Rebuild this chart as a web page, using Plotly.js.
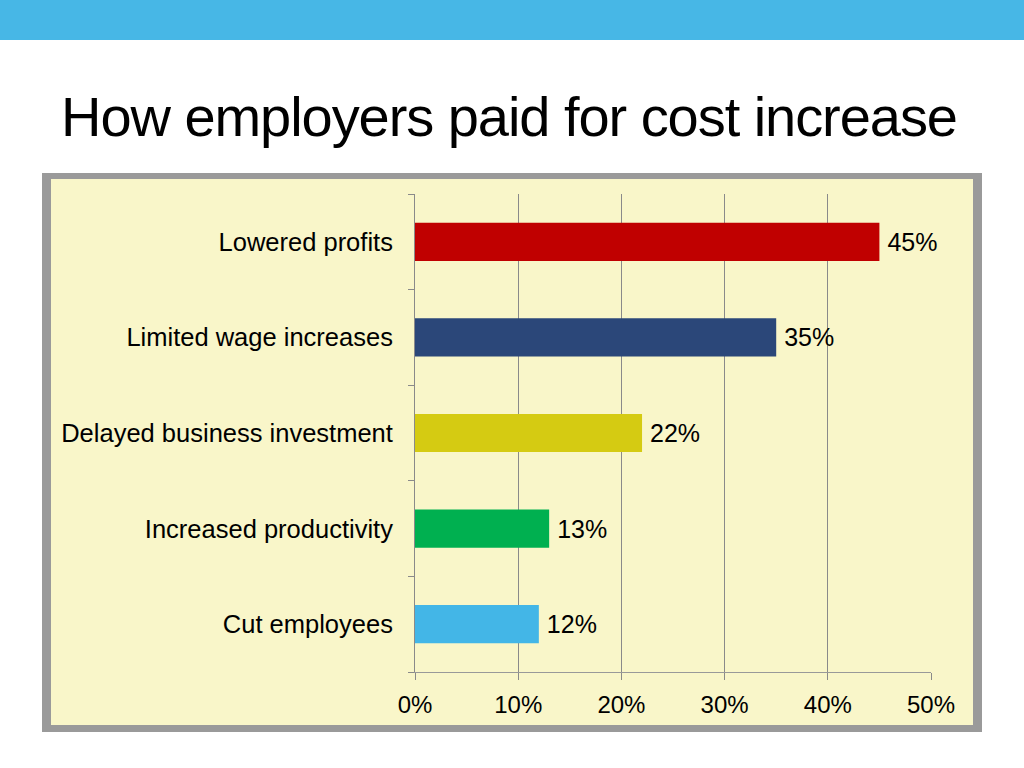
<!DOCTYPE html>
<html><head><meta charset="utf-8">
<script src="https://cdn.plot.ly/plotly-3.0.1.min.js"></script>
<style>html,body{margin:0;padding:0;background:#fff}#chart{width:1024px;height:768px}
.gtitle{letter-spacing:-1.05px}</style>
</head><body><div id="chart"></div>
<script>
var categories = ["Lowered profits","Limited wage increases","Delayed business investment","Increased productivity","Cut employees"];
var values = [45, 35, 22, 13, 12];
var barColors = ["#C00000","#2B4779","#D5CB12","#00B050","#43B6E7"];
var tickVals = [0,10,20,30,40,50];
var tickText = ["0%","10%","20%","30%","40%","50%"];
var titleText = "How employers paid for cost increase";

var font = "Liberation Sans, Arial, sans-serif";
var trace = {
  type: "bar", orientation: "h",
  y: categories.slice().reverse(),
  x: values.slice().reverse(),
  marker: {color: barColors.slice().reverse()},
  width: 0.4,
  text: values.slice().reverse().map(function(v){return "\u2009" + v + "%";}),
  textposition: "outside", constraintext: "none", cliponaxis: false,
  textfont: {family: font, size: 25, color: "#000"},
  hoverinfo: "none"
};
var layout = {
  width: 1024, height: 768,
  margin: {l: 415, r: 93, t: 194, b: 96},
  paper_bgcolor: "rgba(0,0,0,0)", plot_bgcolor: "rgba(0,0,0,0)",
  showlegend: false,
  font: {family: font, color: "#000"},
  title: {text: titleText, font: {family: font, size: 56, color: "#000"},
    xref: "container", yref: "container", x: 61/1024, xanchor: "left", y: 1-116/768, yanchor: "middle"},
  xaxis: {range: [0, 50], tickvals: tickVals, ticktext: tickText, showgrid: true, gridcolor: "#8a8a8a", gridwidth: 1,
    zeroline: false, showline: true, linecolor: "#999", ticks: "outside", ticklen: 7, tickcolor: "#8a8a8a",
    tickfont: {family: font, size: 24, color: "#000"}, ticklabelstandoff: 4, fixedrange: true},
  yaxis: {showline: true, linecolor: "#8a8a8a", ticks: "outside", ticklen: 6, tickcolor: "#8a8a8a", tickson: "boundaries",
    tickfont: {family: font, size: 25.5, color: "#000"}, ticklabelstandoff: 16, showgrid: false, fixedrange: true},
  shapes: [
    {type: "rect", layer: "below", xref: "paper", yref: "paper",
      x0: (42-415)/516, x1: (982-415)/516, y0: (672-732)/478, y1: (672-173)/478, line: {width: 0}, fillcolor: "#9a9a9a"},
    {type: "rect", layer: "below", xref: "paper", yref: "paper",
      x0: (51-415)/516, x1: (973-415)/516, y0: (672-725)/478, y1: (672-179)/478, line: {width: 0}, fillcolor: "#F9F6C9"},
    {type: "rect", layer: "below", xref: "paper", yref: "paper",
      x0: (0-415)/516, x1: (1024-415)/516, y0: (672-0)/478, y1: (672-40)/478, line: {width: 0}, fillcolor: "#47B7E6"}
  ]
};
Plotly.newPlot("chart", [trace], layout, {displayModeBar: false, staticPlot: true});
</script></body></html>
